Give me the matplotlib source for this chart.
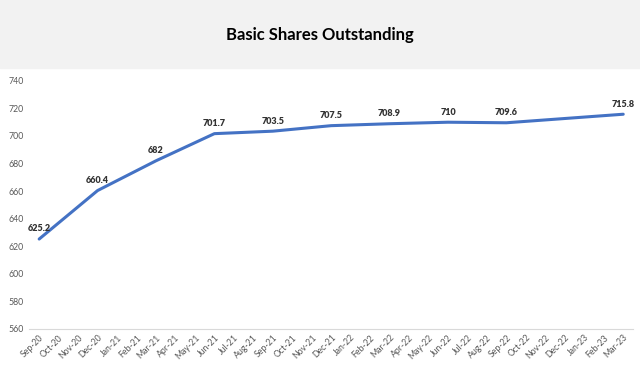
import numpy as np
from matplotlib import pyplot as plt
import matplotlib.patches as mpatches

plt.rcParams['font.family'] = ['Lato', 'DejaVu Sans']

months = ['Sep-20', 'Oct-20', 'Nov-20', 'Dec-20', 'Jan-21', 'Feb-21', 'Mar-21',
          'Apr-21', 'May-21', 'Jun-21', 'Jul-21', 'Aug-21', 'Sep-21', 'Oct-21',
          'Nov-21', 'Dec-21', 'Jan-22', 'Feb-22', 'Mar-22', 'Apr-22', 'May-22',
          'Jun-22', 'Jul-22', 'Aug-22', 'Sep-22', 'Oct-22', 'Nov-22', 'Dec-22',
          'Jan-23', 'Feb-23', 'Mar-23']
point_months = ['Sep-20', 'Dec-20', 'Mar-21', 'Jun-21', 'Sep-21', 'Dec-21',
                'Mar-22', 'Jun-22', 'Sep-22', 'Mar-23']
shares = [625.2, 660.4, 682, 701.7, 703.5, 707.5, 708.9, 710, 709.6, 715.8]

x = np.array([months.index(m) for m in point_months])

fig = plt.figure(figsize=(6.4, 3.78), dpi=100)
fig.patches.append(mpatches.Rectangle((0, 1 - 68 / 378), 1, 68 / 378,
                                      transform=fig.transFigure,
                                      color='#f2f2f2', zorder=0))
fig.text(0.5, 1 - 35 / 378, 'Basic Shares Outstanding', ha='center',
         va='center', fontsize=12, fontweight='bold', color='black')

ax = fig.add_axes([0.046, 0.130, 0.943, 0.656])
ax.plot(x, shares, color='#4472c4', lw=2.2, solid_joinstyle='round',
        solid_capstyle='round')
for xi, v in zip(x, shares):
    ax.annotate('%g' % v, (xi, v), xytext=(0, 4), textcoords='offset points',
                ha='center', va='bottom', fontsize=6.5, fontweight='heavy',
                color='#333333')

ax.set_xlim(-0.5, len(months) - 0.5)
ax.set_ylim(560, 740)
ax.set_yticks(np.arange(560, 741, 20))
ax.set_xticks(range(len(months)))
ax.set_xticklabels(months, rotation=45, ha='right', rotation_mode='anchor')
ax.tick_params(axis='both', length=0, labelsize=6.3, labelcolor='#595959')
ax.tick_params(axis='y', pad=4)
ax.tick_params(axis='x', pad=3)
for s in ['top', 'right', 'left']:
    ax.spines[s].set_visible(False)
ax.spines['bottom'].set_color('#d9d9d9')

plt.savefig('out.png', dpi=100)
